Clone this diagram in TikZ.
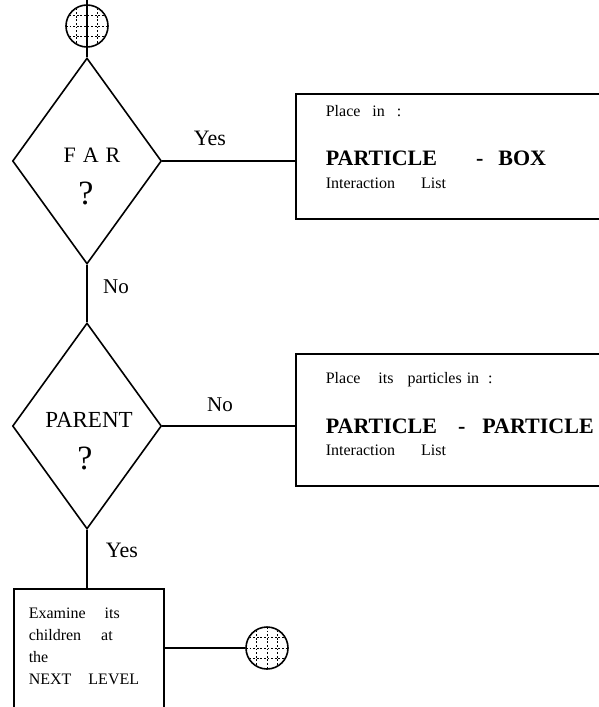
\documentclass[tikz,border=0pt]{standalone}
\usepackage{fontspec}
\setmainfont{Liberation Serif}
\usetikzlibrary{shapes.geometric}

\begin{document}
\begin{tikzpicture}[x=1pt, y=-1pt, line width=1.6pt,
    decision/.style={diamond, draw, inner sep=0pt, minimum width=149pt, minimum height=206pt},
    listbox/.style={rectangle, draw, inner sep=0pt, anchor=north west},
    gridball/.style={circle, draw, minimum size=42pt, inner sep=0pt,
        path picture={
            \foreach \d in {-10.5, 0, 10.5} {
                \draw[line width=0.9pt, dash pattern=on 1.8pt off 1.8pt]
                    ([xshift=\d pt]path picture bounding box.north) -- ([xshift=\d pt]path picture bounding box.south);
                \draw[line width=0.9pt, dash pattern=on 1.8pt off 1.8pt]
                    ([yshift=\d pt]path picture bounding box.west) -- ([yshift=\d pt]path picture bounding box.east);
            }
        }},
    lbl/.style={anchor=base, inner sep=0pt, font=\fontsize{22}{26}\selectfont},
    qmark/.style={anchor=base, inner sep=0pt, font=\fontsize{34}{38}\selectfont},
    small/.style={anchor=base west, inner sep=0pt, font=\fontsize{16}{22}\selectfont},
    big/.style={anchor=base west, inner sep=0pt, font=\fontsize{22}{26}\selectfont\bfseries}]

    % --- SETTINGS ---
    \def\midX{87}
    \useasboundingbox (0,0) rectangle (599,707);

    % =========================================
    % DECISIONS
    % =========================================
    \node[decision] (far) at (\midX,161) {};
    \node[lbl] (fartxt) at (92,162) {F\hspace{7pt}A\hspace{7pt}R};
    \node[qmark] (farq) at (86,204) {?};

    \node[decision] (parent) at (\midX,426) {};
    \node[lbl, font=\fontsize{23}{26}\selectfont] (partxt) at (89,427) {PARENT};
    \node[qmark] (parq) at (85,469) {?};

    % =========================================
    % BOXES
    % =========================================
    % Particle - box list
    \node[listbox, minimum width=330pt, minimum height=125pt] (pbox) at (295,93) {};
    \node[small] (pbplace) at (325,116) {Place\hspace{12pt}in\hspace{12pt}:};
    \node[big] (pbname) at (325,165) {PARTICLE\hspace{39pt}-\hspace{15pt}BOX};
    \node[small] (pblist) at (325,188) {Interaction\hspace{26pt}List};

    % Particle - particle list
    \node[listbox, minimum width=330pt, minimum height=132pt] (ppbox) at (295,353) {};
    \node[small] (ppplace) at (325,383) {Place\hspace{18pt}its\hspace{14pt}particles\hspace{5pt}in\hspace{9pt}:};
    \node[big] (ppname) at (325,433) {PARTICLE\hspace{21pt}-\hspace{17pt}PARTICLE};
    \node[small] (pplist) at (325,455) {Interaction\hspace{26pt}List};

    % Next level
    \node[listbox, minimum width=150pt, minimum height=127pt] (exam) at (13,588) {};
    \node[anchor=north west, inner sep=0pt, align=left, font=\fontsize{16}{22}\selectfont] (examtxt) at (28,607)
        {Examine\hspace{19pt}its\\children\hspace{20pt}at\\the\\NEXT\hspace{17pt}LEVEL};

    % =========================================
    % CONNECTORS
    % =========================================
    \coordinate (top) at (\midX,0);
    \node[gridball] (ball) at (\midX,26) {};
    \node[gridball] (ball2) at (267,648) {};

    \draw (top) -- (far.north);
    \draw (far.east) -- (far.east -| pbox.west);
    \draw (far.south) -- (parent.north);
    \draw (parent.east) -- (parent.east -| ppbox.west);
    \draw (parent.south) -- (parent.south |- exam.north);
    \draw (ball2.west -| exam.east) -- (ball2.west);

    % Labels
    \node[lbl] (yes1) at (210,145.5) {Yes};
    \node[lbl, font=\fontsize{21}{26}\selectfont] (no1) at (116,293.5) {No};
    \node[lbl, font=\fontsize{21}{26}\selectfont] (no2) at (220,411.5) {No};
    \node[lbl] (yes2) at (122,557.5) {Yes};

\end{tikzpicture}
\end{document}
